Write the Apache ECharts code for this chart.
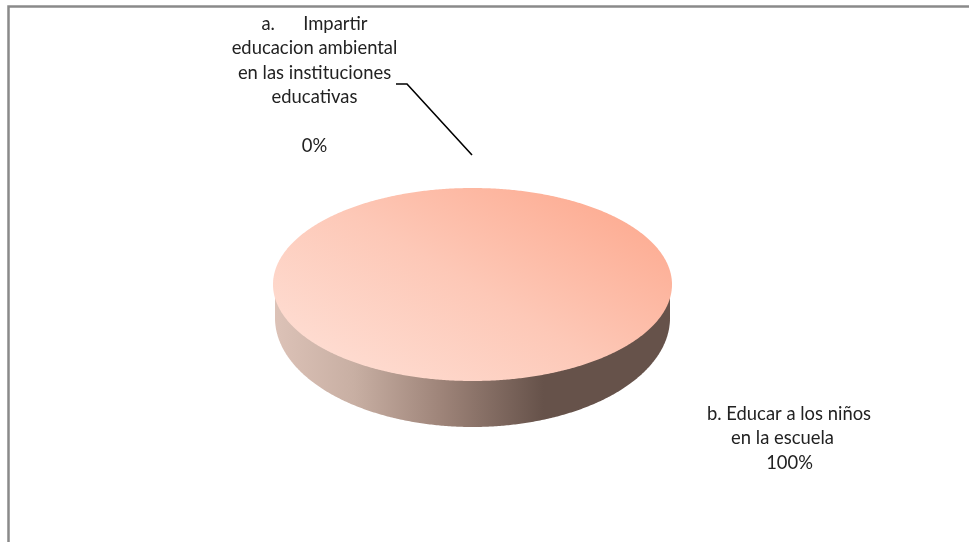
<!DOCTYPE html>
<html>
<head>
<meta charset="utf-8">
<style>html,body{margin:0;padding:0;background:#fff}#c{width:969px;height:542px}</style>
<script src="https://cdn.jsdelivr.net/npm/echarts@6/dist/echarts.min.js"></script>
</head>
<body>
<div id="c"></div>
<script>
const categories = ['a. Impartir educacion ambiental en las instituciones educativas', 'b. Educar a los niños en la escuela'];
const values = [0, 100];
const labelA = ['a.      Impartir', 'educacion ambiental', 'en las instituciones', 'educativas', '', '0%'];
const labelB = ['b. Educar a los niños', 'en la escuela', '100%'];

const TOP = {cx: 472.5, cy: 284.5, rx: 199.5, ry: 96.5};
const BOTTOM = {cx: 472.5, cy: 318, rx: 197.5, ry: 109};
const RIM_Y = 296;
const STEPS = 720;
const FONT = '18.4px Lato';
const INK = '#222222';
const total = values.reduce((a, b) => a + b, 0);

const topFill = new echarts.graphic.LinearGradient(395, 400, 535, 165, [
  {offset: 0, color: '#fedcd1'},
  {offset: 0.5, color: '#fdc8b7'},
  {offset: 1, color: '#fdae95'}
], true);
const sideFill = new echarts.graphic.LinearGradient(0, 0, 1, 0, [
  {offset: 0, color: '#dcc2b7'},
  {offset: 0.2, color: '#c8afa3'},
  {offset: 0.425, color: '#9d8378'},
  {offset: 0.68, color: '#66524a'},
  {offset: 1, color: '#66524a'}
]);

function ell(e, t) {
  return [e.cx + e.rx * Math.cos(t), e.cy + e.ry * Math.sin(t)];
}

function renderItem(params, api) {
  const i = params.dataIndex;
  const v = api.value(0);
  if (v <= 0) return {type: 'group', children: []};
  let before = 0;
  for (let k = 0; k < i; k++) before += values[k];
  const a0 = -Math.PI / 2 + before / total * 2 * Math.PI;
  const a1 = a0 + v / total * 2 * Math.PI;
  const top = [], front = [];
  for (let s = 0; s <= STEPS; s++) {
    const t = a0 + (a1 - a0) * s / STEPS;
    top.push(ell(TOP, t));
    const n = ((t % (2 * Math.PI)) + 2 * Math.PI) % (2 * Math.PI);
    if (n <= Math.PI) front.push(n);
  }
  front.sort((p, q) => p - q);
  const side = front.map(t => ell(BOTTOM, t));
  side.push([BOTTOM.cx - BOTTOM.rx, RIM_Y], [BOTTOM.cx + BOTTOM.rx, RIM_Y]);
  return {
    type: 'group',
    children: [
      {type: 'polygon', shape: {points: side}, style: {fill: sideFill}},
      {type: 'polygon', shape: {points: top}, style: {fill: topFill}}
    ]
  };
}

function textLine(text, x, y) {
  return {type: 'text', x: x, y: y,
    style: {text: text, font: FONT, fill: INK, align: 'center', verticalAlign: 'middle'}};
}
const labelAx = 314.5, labelAy = 24, labelStep = 24.4;
const labelBx = [789, 782.5, 789.5], labelBy = 414;

const chart = echarts.init(document.getElementById('c'), null, {renderer: 'canvas'});
chart.setOption({
  animation: false,
  backgroundColor: '#ffffff',
  series: [{
    type: 'custom',
    coordinateSystem: 'none',
    renderItem: renderItem,
    data: values.map((v, i) => ({name: categories[i], value: [v]}))
  }],
  graphic: [
    {type: 'polyline', shape: {points: [[8.5, 542], [8.5, 6.5], [969, 6.5]]},
     style: {stroke: '#8a8a8a', lineWidth: 2.5, fill: null}},
    {type: 'polyline', shape: {points: [[396, 84], [407, 84], [472, 155]]},
     style: {stroke: '#000', lineWidth: 1.6, fill: null}}
  ].concat(
    labelA.map((t, i) => textLine(t, labelAx, labelAy + i * labelStep)),
    labelB.map((t, i) => textLine(t, labelBx[i], labelBy + i * labelStep))
  )
});
</script>
</body>
</html>
